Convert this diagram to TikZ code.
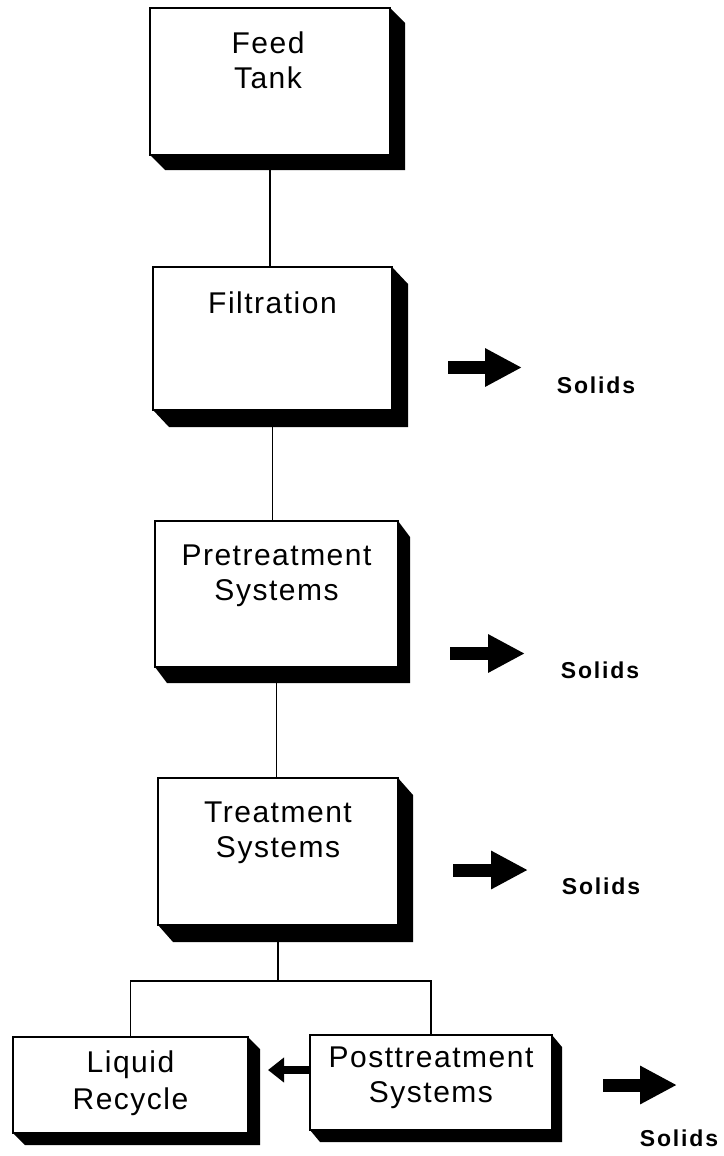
\documentclass[tikz,border=0pt]{standalone}
\usepackage{fontspec}
\setmainfont{Liberation Sans}
\newfontfamily\boxfont[LetterSpace=5]{Liberation Sans}
\newfontfamily\solfont[LetterSpace=8]{Liberation Sans}
\usetikzlibrary{arrows.meta,calc,backgrounds}
\newcommand\boxshadow[3]{%
  \fill[black] (#1.north east) -- ++(#2,#3) -- ($(#1.south east)+(#2,#3)$)
    -- ($(#1.south west)+(#2,#3)$) -- (#1.south west) -- (#1.south east) -- cycle;}
\begin{document}
\begin{tikzpicture}[x=1pt,y=-1pt,
  box/.style={draw, rectangle, fill=white, line width=1.3pt, inner sep=0pt, outer sep=0pt},
  lbl/.style={anchor=north, inner sep=0pt, align=center, font=\boxfont\fontsize{30}{35}\selectfont},
  solids/.style={inner sep=0pt, font=\solfont\bfseries\fontsize{23}{27}\selectfont},
  link/.style={line width=1.2pt},
  outarrow/.style={line width=13pt, -{Triangle[length=37pt,width=36pt]}},
  backarrow/.style={line width=8pt, -{Triangle[length=16pt,width=24pt]}}]
\useasboundingbox (0,0) rectangle (723,1156);

% boxes
\node[box, minimum width=240pt, minimum height=147pt] (feed)  at (270,81.5) {};
\node[box, minimum width=239pt, minimum height=143pt] (filt)  at (272.5,338.5) {};
\node[box, minimum width=243pt, minimum height=146pt] (pre)   at (276.5,594) {};
\node[box, minimum width=240pt, minimum height=147pt] (treat) at (278,851.5) {};
\node[box, minimum width=235pt, minimum height=96pt]  (liq)   at (130.5,1085) {};
\node[box, minimum width=242pt, minimum height=95pt]  (post)  at (431,1082.5) {};

% labels
\node[lbl] (feedT)  at ($(feed.north)+(-2,24)$) {Feed\\Tank};
\node[lbl] (filtT)  at ($(filt.north)+(0,25)$) {Filtration};
\node[lbl] (preT)   at ($(pre.north)+(0,24)$) {Pretreatment\\Systems};
\node[lbl] (treatT) at ($(treat.north)+(0,24)$) {Treatment\\Systems};
\node[lbl, font=\boxfont\fontsize{30}{37}\selectfont] (liqT) at ($(liq.north)+(0,14)$) {Liquid\\Recycle};
\node[lbl] (postT)  at ($(post.north)+(0,12)$) {Posttreatment\\Systems};

% solids labels
\node[solids] (sol1) at (596,385) {Solids};
\node[solids] (sol2) at (600,670) {Solids};
\node[solids] (sol3) at (601,886) {Solids};
\node[solids] (sol4) at (679,1138) {Solids};

% arrow end points
\coordinate (a1t) at (448,367.5); \coordinate (a1h) at (522,367.5);
\coordinate (a2t) at (450,653.5); \coordinate (a2h) at (525,653.5);
\coordinate (a3t) at (453,870);   \coordinate (a3h) at (528,870);
\coordinate (a4t) at (603,1085);  \coordinate (a4h) at (677,1085);
\coordinate (ltip) at (268,1070);
\coordinate (barY) at (0,981);

\draw[outarrow] (a1t) -- (a1h);
\draw[outarrow] (a2t) -- (a2h);
\draw[outarrow] (a3t) -- (a3h);
\draw[outarrow] (a4t) -- (a4h);
\draw[backarrow] (post.west |- ltip) -- (ltip);

\begin{scope}[on background layer]
  \draw[link] (feed.south) -- (feed.south |- filt.north);
  \draw[link] (filt.south) -- (filt.south |- pre.north);
  \draw[link] (pre.south) -- (pre.south |- treat.north);
  \draw[link] (treat.south) -- (treat.south |- barY);
  \draw[link] (liq.north) -- (liq.north |- barY) -- (post.north |- barY) -- (post.north);
  \boxshadow{feed}{15}{15}
  \boxshadow{filt}{16}{17}
  \boxshadow{pre}{12}{16}
  \boxshadow{treat}{15}{17}
  \boxshadow{liq}{12}{12}
  \boxshadow{post}{10}{12}
\end{scope}
\end{tikzpicture}
\end{document}
